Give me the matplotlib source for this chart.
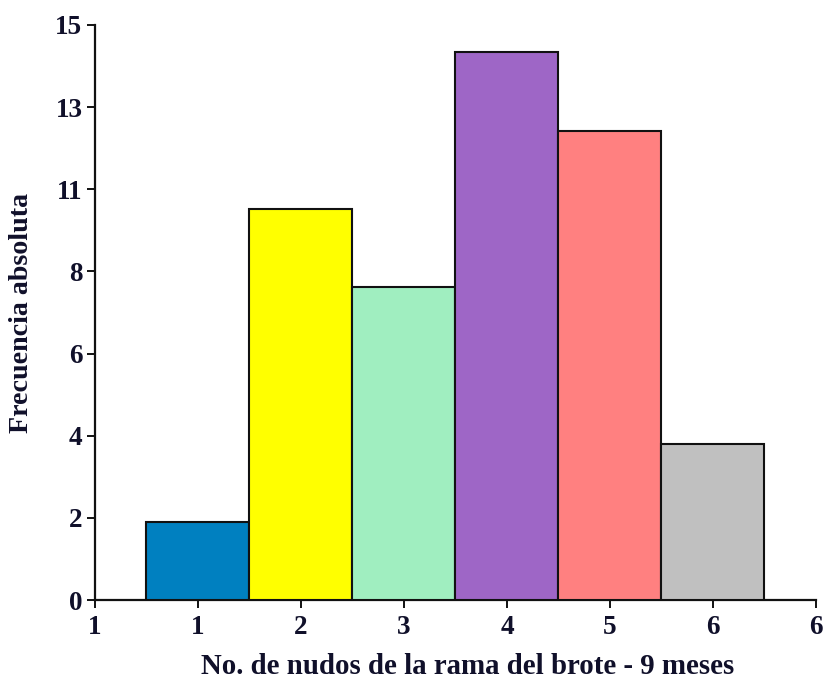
import numpy as np
import matplotlib
matplotlib.use("Agg")
import matplotlib.pyplot as plt

# values
nodes = [1, 2, 3, 4, 5, 6]
freq = [2, 10, 8, 14, 12, 4]
colors = ["#0080C0", "#FFFF00", "#A0EEC0", "#9E66C6", "#FF8080", "#C0C0C0"]
xtick_labels = ["1", "1", "2", "3", "4", "5", "6", "6"]
ytick_labels = ["0", "2", "4", "6", "8", "11", "13", "15"]

plt.rcParams['font.family'] = ['Liberation Serif', 'DejaVu Serif']
plt.rcParams['font.weight'] = 'bold'
txt = "#10102a"

fig = plt.figure(figsize=(8.29, 6.82), dpi=100)
ax = fig.add_axes([95/829, 82/682, 721/829, 575/682])

ax.bar(nodes, freq, width=1.0, color=colors, edgecolor="#111111", linewidth=1.5, zorder=3)

ymax = 14.7
ax.set_xlim(0, 7)
ax.set_ylim(0, ymax)
ax.set_xticks(np.arange(0, 8))
ax.set_xticklabels(xtick_labels)
ax.set_yticks(np.linspace(0, ymax, 8))
ax.set_yticklabels(ytick_labels)

for s in ["top", "right"]:
    ax.spines[s].set_visible(False)
for s in ["left", "bottom"]:
    ax.spines[s].set_linewidth(1.6)
    ax.spines[s].set_color("#111111")

ax.tick_params(axis="both", direction="out", length=6, width=1.4, colors="#111111",
               labelsize=19.5, labelcolor=txt)
ax.tick_params(axis="x", pad=5)
ax.tick_params(axis="y", pad=3)

ax.set_xlabel("No. de nudos de la rama del brote - 9 meses", fontsize=20.8,
              fontweight="bold", color=txt)
ax.set_ylabel("Frecuencia absoluta", fontsize=20.2, fontweight="bold", color=txt)
ax.xaxis.set_label_coords(0.517, -0.093)
ax.yaxis.set_label_coords(-0.085, 0.5)

fig.savefig("out.png", dpi=100)
